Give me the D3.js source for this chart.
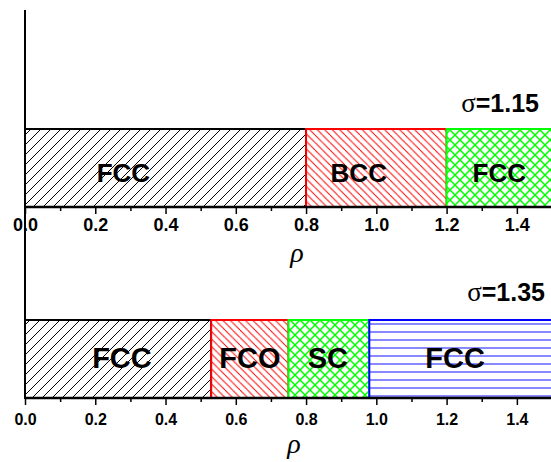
<!DOCTYPE html>
<html>
<head>
<meta charset="utf-8">
<script src="https://cdn.jsdelivr.net/npm/d3@7"></script>
<style>
  body { margin: 0; background: #fff; }
  svg { display: block; font-family: "Liberation Sans", Arial, sans-serif; }
</style>
</head>
<body>
<div class="visuals"></div>
<script>
// phase diagram data
var sigmas = [1.15, 1.35];
var phasesTop = ['FCC', 'BCC', 'FCC'];
var boundsTop = [0, 0.8, 1.2, 1.5];
var labelRhoTop = [0.28, 0.95, 1.35];
var phasesBottom = ['FCC', 'FCO', 'SC', 'FCC'];
var boundsBottom = [0, 0.53, 0.75, 0.98, 1.5];
var labelRhoBottom = [0.276, 0.64, 0.862, 1.224];
var majorTicks = [0, 0.2, 0.4, 0.6, 0.8, 1.0, 1.2, 1.4];
var tickLabels = ['0.0', '0.2', '0.4', '0.6', '0.8', '1.0', '1.2', '1.4'];
var minorTicks = [0.1, 0.3, 0.5, 0.7, 0.9, 1.1, 1.3, 1.5];

var PhaseChart = (function(){

  return function(selector){
    var width = 551, height = 462;
    var svg, x;

    var initialize = function(){
      svg = d3.select(selector).append('svg')
        .attr('width', width)
        .attr('height', height);

      x = d3.scaleLinear().domain([0, 1.5]).range([25, 552]);

      var defs = svg.append('defs');

      var hatch = function(id, color, step, lw, dirs){
        var p = defs.append('pattern')
          .attr('id', id)
          .attr('patternUnits', 'userSpaceOnUse')
          .attr('width', step)
          .attr('height', step);
        p.append('rect').attr('width', step).attr('height', step).style('fill', 'white');
        dirs.forEach(function(d){
          var path;
          if (d === '/') path = 'M' + (-step) + ',' + step + 'L' + step + ',' + (-step) +
            'M0,' + (2 * step) + 'L' + (2 * step) + ',0' + 'M0,' + step + 'L' + step + ',0';
          if (d === '\\') path = 'M0,0L' + step + ',' + step +
            'M' + (-step) + ',0L0,' + step + 'M' + step + ',0L' + (2 * step) + ',' + step;
          if (d === '-') path = 'M0,' + (step / 2) + 'L' + step + ',' + (step / 2);
          p.append('path')
            .attr('d', path)
            .style('stroke', color)
            .style('stroke-width', lw)
            .style('fill', 'none');
        });
      };

      hatch('pBlack', '#000', 10, 1, ['/']);
      hatch('pRed', '#ff0000', 7.5, 1, ['\\']);
      hatch('pGreen', '#00ff00', 10, 1.5, ['/', '\\']);
      hatch('pBlue', '#6b6bff', 8, 1.6, ['-']);
    };

    var fills = ['url(#pBlack)', 'url(#pRed)', 'url(#pGreen)', 'url(#pBlue)'];
    var strokes = ['#000', '#ff0000', '#00ff00', '#0000ff'];

    var panel = function(opts){
      var g = svg.append('g');
      var segs = opts.phases.map(function(name, i){
        return { name: name, x0: opts.bounds[i], x1: opts.bounds[i + 1], lx: opts.labelRho[i], i: i };
      });

      g.selectAll('rect.phase')
        .data(segs)
      .enter().append('rect')
        .attr('class', 'phase')
        .attr('x', function(d){ return x(d.x0); })
        .attr('y', opts.barTop)
        .attr('width', function(d){ return x(d.x1) - x(d.x0); })
        .attr('height', opts.axisY - opts.barTop)
        .style('fill', function(d){ return fills[d.i]; })
        .style('stroke', function(d){ return strokes[d.i]; })
        .style('stroke-width', '2px');

      g.selectAll('text.phase')
        .data(segs)
      .enter().append('text')
        .attr('class', 'phase')
        .text(function(d){ return d.name; })
        .attr('x', function(d){ return x(d.lx); })
        .attr('y', opts.labelY)
        .attr('text-anchor', 'middle')
        .style('font-weight', 'bold')
        .style('font-size', opts.labelSize + 'px');

      // x axis
      var ax = g.append('g').attr('transform', 'translate(0,' + opts.axisY + ')');
      ax.call(d3.axisBottom(x).tickValues(majorTicks).tickSize(7).tickFormat(function(d, i){ return tickLabels[i]; }));
      ax.append('g').call(d3.axisBottom(x).tickValues(minorTicks).tickSize(4).tickFormat(''));
      ax.selectAll('.domain').remove();
      ax.selectAll('line').style('stroke', '#000').style('stroke-width', '1.5px');
      ax.selectAll('text')
        .attr('y', opts.tickTextY)
        .attr('dy', 0)
        .style('fill', '#000')
        .style('font-weight', 'bold')
        .style('font-size', opts.tickSize + 'px')
        .style('font-family', '"Liberation Sans", Arial, sans-serif');
      ax.append('line')
        .attr('x1', x(0))
        .attr('x2', width)
        .style('stroke', '#000')
        .style('stroke-width', '2.5px');

      // sigma label
      var s = g.append('text')
        .attr('x', opts.sigmaX)
        .attr('y', opts.sigmaY)
        .attr('text-anchor', 'end')
        .style('font-size', '25px')
        .style('font-weight', 'bold');
      s.append('tspan')
        .text('σ')
        .style('font-family', '"Liberation Serif", serif')
        .style('font-weight', 'normal')
        .style('font-size', '27px');
      s.append('tspan').text('=' + opts.sigma.toFixed(2));

      // rho label
      g.append('text')
        .text('ρ')
        .attr('x', opts.rhoX)
        .attr('y', opts.axisY + 55)
        .attr('text-anchor', 'middle')
        .style('font-family', '"Liberation Serif", serif')
        .style('font-style', 'italic')
        .style('font-size', '28px');
    };

    this.draw = function(){
      panel({ phases: phasesTop, bounds: boundsTop, labelRho: labelRhoTop, sigma: sigmas[0],
        barTop: 129, axisY: 207, labelY: 182, labelSize: 26, tickTextY: 24, tickSize: 18,
        sigmaX: 539, sigmaY: 112, rhoX: 297 });
      panel({ phases: phasesBottom, bounds: boundsBottom, labelRho: labelRhoBottom, sigma: sigmas[1],
        barTop: 320, axisY: 398, labelY: 368, labelSize: 29, tickTextY: 27, tickSize: 16,
        sigmaX: 545, sigmaY: 301, rhoX: 294 });

      // shared y axis line
      svg.append('line')
        .attr('x1', x(0)).attr('x2', x(0))
        .attr('y1', 10).attr('y2', 398)
        .style('stroke', '#000')
        .style('stroke-width', '2px');
    };

    initialize();
  };

}());

document.addEventListener('DOMContentLoaded', function () {
  var chart = new PhaseChart('.visuals');
  chart.draw();
});
</script>
</body>
</html>
